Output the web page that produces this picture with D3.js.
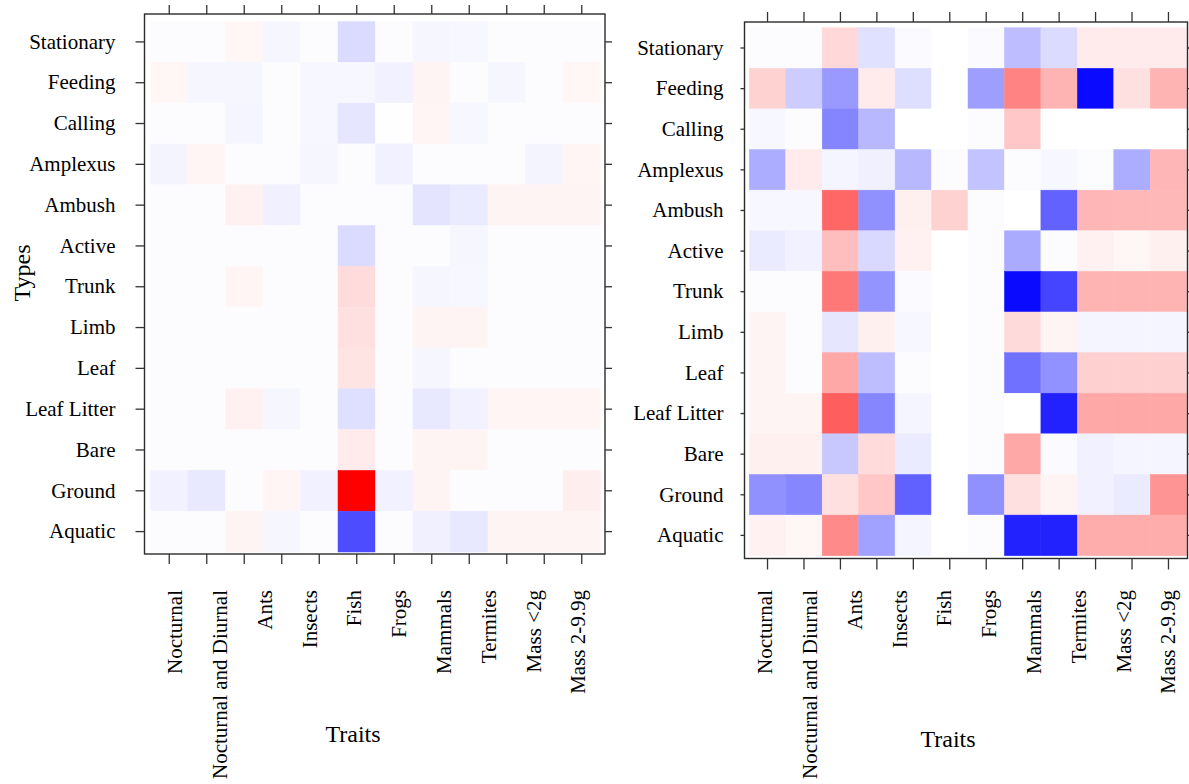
<!DOCTYPE html>
<html>
<head>
<meta charset="utf-8">
<script src="https://cdn.jsdelivr.net/npm/d3@7"></script>
<style>
  html, body { margin: 0; padding: 0; background: #ffffff; }
  svg { display: block; }
  text { font-family: "Liberation Serif", "Times New Roman", serif; fill: #000; }
</style>
</head>
<body>
<svg id="chart" width="1189" height="784"></svg>
<script>
// Row categories (top to bottom)
const types = ["Stationary", "Feeding", "Calling", "Amplexus", "Ambush", "Active",
  "Trunk", "Limb", "Leaf", "Leaf Litter", "Bare", "Ground", "Aquatic"];

// Twelve trait columns; the axis carries ten labels spread along the bottom
const columns = ["c1", "c2", "c3", "c4", "c5", "c6", "c7", "c8", "c9", "c10", "c11", "c12"];
const traitLabels = ["Nocturnal", "Nocturnal and Diurnal", "Ants", "Insects", "Fish",
  "Frogs", "Mammals", "Termites", "Mass <2g", "Mass 2-9.9g"];

// Association values, one row per type, one entry per column (left panel)
const leftValues = [
  [-0.01, -0.01, 0.035, -0.035, -0.01, -0.14, -0.01, -0.035, -0.03, -0.01, -0.01, -0.01],
  [0.035, -0.035, -0.035, -0.01, -0.03, -0.03, -0.055, 0.045, -0.01, -0.035, -0.01, 0.035],
  [-0.01, -0.01, -0.04, -0.01, -0.03, -0.10, -0.005, 0.04, -0.03, -0.01, -0.01, -0.01],
  [-0.045, 0.04, -0.01, -0.01, -0.035, -0.01, -0.055, -0.01, -0.01, -0.01, -0.045, 0.04],
  [-0.01, -0.01, 0.055, -0.06, -0.01, -0.01, -0.01, -0.105, -0.08, 0.045, 0.045, 0.045],
  [-0.01, -0.01, -0.01, -0.01, -0.01, -0.14, -0.01, -0.01, -0.035, -0.01, -0.01, -0.01],
  [-0.01, -0.01, 0.04, -0.01, -0.01, 0.14, -0.01, -0.035, -0.03, -0.01, -0.01, -0.01],
  [-0.01, -0.01, -0.01, -0.01, -0.01, 0.12, -0.01, 0.045, 0.045, -0.01, -0.01, -0.01],
  [-0.01, -0.01, -0.01, -0.01, -0.01, 0.105, -0.01, -0.035, -0.01, -0.01, -0.01, -0.01],
  [-0.01, -0.01, 0.055, -0.035, -0.01, -0.125, -0.01, -0.09, -0.055, 0.04, 0.04, 0.04],
  [-0.01, -0.01, -0.01, -0.01, -0.01, 0.08, -0.01, 0.045, 0.045, -0.01, -0.01, -0.01],
  [-0.055, -0.09, -0.01, 0.04, -0.055, 1.0, -0.055, 0.045, -0.01, -0.01, -0.01, 0.065],
  [-0.01, -0.01, 0.045, -0.035, -0.01, -0.70, -0.01, -0.06, -0.09, 0.045, 0.045, 0.045]
];

// Association values (right panel)
const rightValues = [
  [-0.01, -0.01, 0.15, -0.12, -0.015, 0, -0.015, -0.26, -0.14, 0.08, 0.08, 0.08],
  [0.175, -0.2, -0.4, 0.08, -0.13, 0, -0.38, 0.485, 0.295, -0.96, 0.12, 0.295],
  [-0.03, -0.01, -0.48, -0.28, 0, 0, -0.01, 0.22, 0, 0, 0, 0],
  [-0.32, 0.08, -0.04, -0.06, -0.28, -0.01, -0.235, -0.01, -0.03, -0.01, -0.32, 0.285],
  [-0.03, -0.03, 0.6, -0.435, 0.06, 0.175, -0.01, 0, -0.615, 0.285, 0.28, 0.28],
  [-0.08, -0.055, 0.255, -0.15, 0.055, 0, -0.01, -0.335, -0.01, 0.055, 0.035, 0.06],
  [-0.01, -0.01, 0.53, -0.42, -0.015, 0, -0.01, -0.96, -0.73, 0.295, 0.295, 0.295],
  [0.045, -0.01, -0.1, 0.06, -0.03, 0, -0.01, 0.145, 0.045, -0.04, -0.04, -0.04],
  [0.045, -0.01, 0.34, -0.255, -0.01, 0, -0.01, -0.555, -0.43, 0.185, 0.185, 0.185],
  [0.045, 0.045, 0.63, -0.475, -0.04, 0, -0.01, 0, -0.865, 0.34, 0.34, 0.34],
  [0.06, 0.06, -0.215, 0.14, -0.08, 0, -0.01, 0.34, -0.015, -0.055, -0.04, -0.04],
  [-0.435, -0.475, 0.12, 0.22, -0.62, 0, -0.435, 0.12, 0.045, -0.055, -0.08, 0.42],
  [0.055, 0.035, 0.46, -0.37, -0.04, 0, -0.01, -0.865, -0.865, 0.325, 0.325, 0.325]
];

// Diverging blue - white - red palette
const color = d3.scaleLinear()
  .domain([-1, 0, 1])
  .range(["#0000ff", "#ffffff", "#ff0000"])
  .clamp(true);

const svg = d3.select("#chart");

const panels = [
  {
    values: leftValues,
    frame: { x0: 144.5, y0: 14, x1: 605, y1: 554 },
    cells: { x0: 150.5, y0: 21.5, x1: 600.5, y1: 552 },
    ticks: { left: 9, right: 7, top: 9, bottom: 10 },
    rowLabelGap: 20,
    labelRange: [175, 578],
    labelTop: 590,
    xTitle: { x: 353, y: 742 },
    yTitle: { x: 30, y: 273 }
  },
  {
    values: rightValues,
    frame: { x0: 744.5, y0: 22, x1: 1187.5, y1: 558.5 },
    cells: { x0: 749.3, y0: 27.7, x1: 1186.7, y1: 555.7 },
    ticks: { left: 4, right: 7, top: 10, bottom: 11 },
    rowLabelGap: 17,
    labelRange: [765, 1168],
    labelTop: 590,
    xTitle: { x: 948, y: 747 },
    yTitle: null
  }
];

const labelFont = 21;
const titleFont = 24;

panels.forEach(p => {
  const g = svg.append("g");

  const x = d3.scaleBand().domain(columns).range([p.cells.x0, p.cells.x1]);
  const y = d3.scaleBand().domain(types).range([p.cells.y0, p.cells.y1]);

  // heatmap cells
  const cellData = [];
  p.values.forEach((row, i) => row.forEach((v, j) => {
    cellData.push({ type: types[i], col: columns[j], value: v });
  }));

  g.append("g")
    .selectAll("rect")
    .data(cellData)
    .join("rect")
    .attr("x", d => x(d.col))
    .attr("y", d => y(d.type))
    .attr("width", x.bandwidth())
    .attr("height", y.bandwidth())
    .attr("fill", d => color(d.value))
    .attr("stroke", d => color(d.value))
    .attr("stroke-width", 0.5);

  // panel frame
  g.append("rect")
    .attr("x", p.frame.x0)
    .attr("y", p.frame.y0)
    .attr("width", p.frame.x1 - p.frame.x0)
    .attr("height", p.frame.y1 - p.frame.y0)
    .attr("fill", "none")
    .attr("stroke", "#2b2b2b")
    .attr("stroke-width", 1.4);

  const styleAxis = sel => {
    sel.select(".domain").remove();
    sel.selectAll(".tick line").attr("stroke", "#333").attr("stroke-width", 1.3);
  };

  // left axis with row labels
  const leftAxis = g.append("g")
    .attr("transform", `translate(${p.frame.x0},0)`)
    .call(d3.axisLeft(y).tickSize(p.ticks.left).tickPadding(p.rowLabelGap))
    .call(styleAxis);
  leftAxis.selectAll(".tick text")
    .attr("font-size", labelFont)
    .attr("font-family", "Liberation Serif, Times New Roman, serif")
    .attr("fill", "#000");

  // right axis ticks only
  g.append("g")
    .attr("transform", `translate(${p.frame.x1},0)`)
    .call(d3.axisRight(y).tickSize(p.ticks.right).tickFormat(""))
    .call(styleAxis);

  // top and bottom ticks
  g.append("g")
    .attr("transform", `translate(0,${p.frame.y0})`)
    .call(d3.axisTop(x).tickSize(p.ticks.top).tickFormat(""))
    .call(styleAxis);
  g.append("g")
    .attr("transform", `translate(0,${p.frame.y1})`)
    .call(d3.axisBottom(x).tickSize(p.ticks.bottom).tickFormat(""))
    .call(styleAxis);

  // rotated trait labels
  const lx = d3.scalePoint().domain(traitLabels).range(p.labelRange);
  g.append("g")
    .selectAll("text")
    .data(traitLabels)
    .join("text")
    .attr("transform", d => `translate(${lx(d)},${p.labelTop}) rotate(-90)`)
    .attr("text-anchor", "end")
    .attr("dy", "0.35em")
    .attr("font-size", labelFont)
    .text(d => d);

  // axis titles
  g.append("text")
    .attr("x", p.xTitle.x)
    .attr("y", p.xTitle.y)
    .attr("text-anchor", "middle")
    .attr("font-size", titleFont)
    .text("Traits");

  if (p.yTitle) {
    g.append("text")
      .attr("transform", `translate(${p.yTitle.x},${p.yTitle.y}) rotate(-90)`)
      .attr("text-anchor", "middle")
      .attr("font-size", titleFont)
      .text("Types");
  }
});
</script>
</body>
</html>
